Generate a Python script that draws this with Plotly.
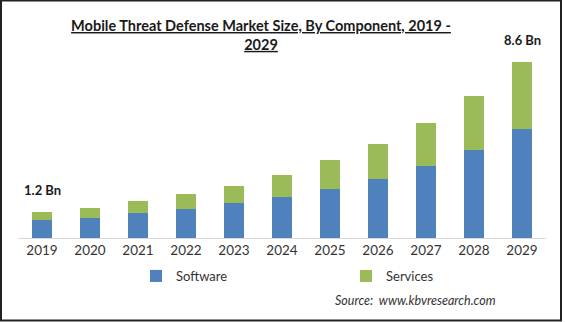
import plotly.graph_objects as go

years = ["2019", "2020", "2021", "2022", "2023", "2024", "2025", "2026", "2027", "2028", "2029"]
software = [0.86, 0.99, 1.20, 1.43, 1.69, 2.02, 2.41, 2.89, 3.53, 4.31, 5.33]
totals = [1.25, 1.49, 1.82, 2.16, 2.55, 3.09, 3.82, 4.60, 5.63, 6.94, 8.60]
services = [round(t - s, 2) for t, s in zip(totals, software)]
labels = {"2019": "1.2 Bn", "2029": "8.6 Bn"}

W, H = 565, 322
L, R, T, B = 18, 19, 55, 84

fig = go.Figure()
fig.add_trace(go.Bar(x=years, y=software, name="Software", marker=dict(color="#4F81BD", line_width=0)))
fig.add_trace(go.Bar(x=years, y=services, name="Services", marker=dict(color="#9BBB59", line_width=0)))

for i, yr in enumerate(years):
    if yr in labels:
        fig.add_annotation(x=i, y=totals[i], text="<b>" + labels[yr] + "</b>", showarrow=False,
                           xanchor="center", yanchor="bottom", yshift=12,
                           font=dict(family="Lato", size=13, color="#1a1a1a"))

pw, ph = W - L - R, H - T - B
fig.add_annotation(xref="paper", yref="paper", x=(415 - L) / pw, y=-(300 - (H - B)) / ph,
                   text="<i>Source:  www.kbvresearch.com</i>", showarrow=False,
                   xanchor="center", yanchor="middle", font=dict(family="Lato", size=12.5, color="#333333"))

# outer frame
fig.add_shape(type="rect", xref="paper", yref="paper",
              x0=-(L - 1) / pw, x1=1 + (R - 4) / pw, y0=-(B - 1.5) / ph, y1=1 + (T - 0.5) / ph,
              line=dict(color="#222222", width=2), fillcolor="rgba(0,0,0,0)", layer="above")

fig.update_layout(
    width=W, height=H,
    margin=dict(l=L, r=R, t=T, b=B, autoexpand=False),
    paper_bgcolor="white", plot_bgcolor="white",
    barmode="stack", bargap=0.58,
    title=dict(text="<b>Mobile Threat Defense Market Size, By Component, 2019 -<br>2029</b>",
               x=261 / W, xanchor="center", y=1 - 31 / H, yanchor="top",
               font=dict(family="Lato", size=14.5, color="#1a1a1a", lineposition="under")),
    xaxis=dict(type="category", showline=True, linecolor="#D9D9D9", linewidth=1, ticks="", showgrid=False,
               tickfont=dict(family="Lato", size=13.5, color="#333333"), automargin=False),
    yaxis=dict(visible=False, range=[0, 8.6 * ph / 176], showgrid=False),
    legend=dict(orientation="h", xref="container", yref="container", x=136 / W, xanchor="left",
                y=1 - 276 / H, yanchor="middle",
                font=dict(family="Lato", size=13, color="#333333"),
                entrywidth=165, entrywidthmode="pixels", itemwidth=30, traceorder="normal"),
    showlegend=True,
)

fig.write_html("out.html")
